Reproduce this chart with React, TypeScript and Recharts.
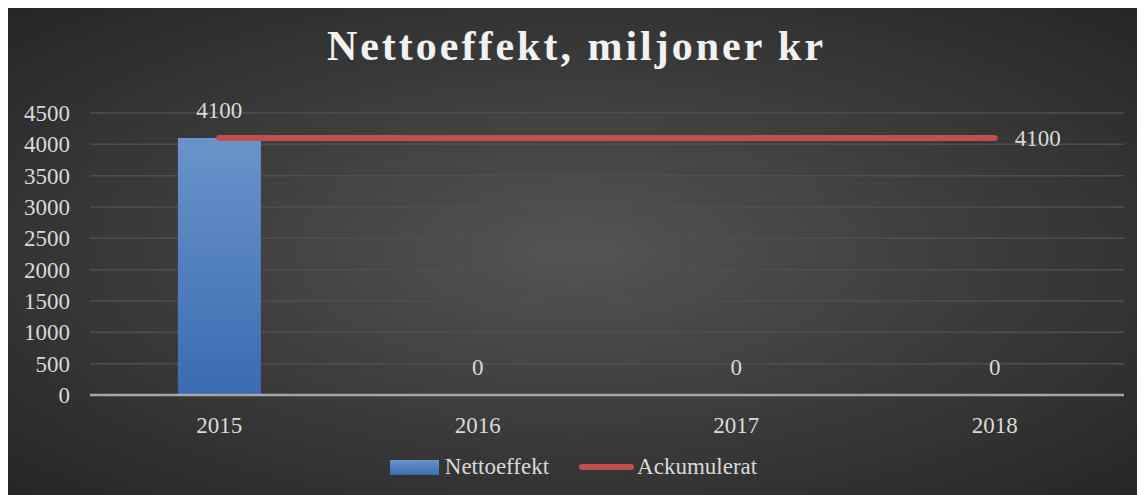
import React from 'react'
import {
    Bar,
    CartesianGrid,
    ComposedChart,
    LabelList,
    Line,
    XAxis,
    YAxis,
} from 'recharts'

const years = ['2015', '2016', '2017', '2018']
const nettoeffekt = [4100, 0, 0, 0]
const ackumulerat = [4100, 4100, 4100, 4100]
const yTicks = [0, 500, 1000, 1500, 2000, 2500, 3000, 3500, 4000, 4500]

const data = years.map((year, i) => ({
    year,
    nettoeffekt: nettoeffekt[i],
    ackumulerat: ackumulerat[i],
}))

const FONT = '"Liberation Serif", "Times New Roman", serif'
const TEXT = '#d9d9d9'
const FS = 23

function LineEndLabel(props: any) {
    const { x, y, value, index } = props
    if (index !== years.length - 1) return null
    return (
        <text x={x + 20} y={y + 8} fill={TEXT} fontSize={FS} fontFamily={FONT}>
            {value}
        </text>
    )
}

// bar value labels, drawn above each bar top (also for zero bars)
function BarValueLabel(props: any) {
    const { x, y, value } = props
    return (
        <text x={x} y={y - 20} fill={TEXT} fontSize={FS} fontFamily={FONT} textAnchor="middle">
            {value}
        </text>
    )
}

function ChartLegend() {
    return (
        <div
            style={{
                position: 'absolute',
                top: 446,
                left: 0,
                width: '100%',
                display: 'flex',
                justifyContent: 'center',
                alignItems: 'center',
                fontFamily: FONT,
                fontSize: 23,
                color: TEXT,
                paddingRight: 6,
                boxSizing: 'border-box',
            }}
        >
            <span
                style={{
                    display: 'inline-block',
                    width: 49,
                    height: 15,
                    background: 'linear-gradient(#6a93c9, #3d6db2)',
                    marginRight: 6,
                }}
            />
            <span style={{ marginRight: 30 }}>Nettoeffekt</span>
            <span
                style={{
                    display: 'inline-block',
                    width: 55,
                    height: 6,
                    borderRadius: 3,
                    background: '#c0504d',
                    marginRight: 3,
                }}
            />
            <span>Ackumulerat</span>
        </div>
    )
}

export default function App() {
    return (
        <div
            style={{
                position: 'relative',
                width: 1137,
                height: 487,
                background:
                    'radial-gradient(ellipse at 50% 50%, #545454 0%, #3c3c3c 50%, #262626 100%)',
            }}
        >
            <div
                style={{
                    position: 'absolute',
                    top: 14,
                    left: 0,
                    width: '100%',
                    textAlign: 'center',
                    fontFamily: FONT,
                    fontWeight: 'bold',
                    fontSize: 42,
                    letterSpacing: 3,
                    color: '#f2f2f2',
                }}
            >
                Nettoeffekt, miljoner kr
            </div>
            <ComposedChart
                width={1137}
                height={487}
                data={data}
                margin={{ top: 105, right: 21, bottom: 70, left: 0 }}
                barCategoryGap="34%"
                style={{ position: 'absolute', top: 0, left: 0 }}
            >
                <defs>
                    <linearGradient id="barFill" x1="0" y1="0" x2="0" y2="1">
                        <stop offset="0%" stopColor="#6a93c9" />
                        <stop offset="100%" stopColor="#3a6bb2" />
                    </linearGradient>
                </defs>
                <CartesianGrid vertical={false} stroke="#4f4f4f" strokeWidth={1.5} />
                <XAxis
                    dataKey="year"
                    height={30}
                    axisLine={{ stroke: '#a6a6a6', strokeWidth: 2.5 }}
                    tickLine={false}
                    tickSize={0}
                    tickMargin={22}
                    interval={0}
                    tick={{ fill: TEXT, fontSize: FS, fontFamily: FONT }}
                />
                <YAxis
                    width={82}
                    domain={[0, 4500]}
                    ticks={yTicks}
                    interval={0}
                    axisLine={false}
                    tickLine={false}
                    tickSize={0}
                    tickMargin={20}
                    tick={{ fill: TEXT, fontSize: FS, fontFamily: FONT }}
                />
                <Bar dataKey="nettoeffekt" fill="url(#barFill)" isAnimationActive={false} />
                <Line
                    dataKey="nettoeffekt"
                    stroke="none"
                    dot={false}
                    activeDot={false}
                    isAnimationActive={false}
                >
                    <LabelList dataKey="nettoeffekt" content={BarValueLabel} />
                </Line>
                <Line
                    dataKey="ackumulerat"
                    stroke="#c0504d"
                    strokeWidth={6}
                    strokeLinecap="round"
                    dot={false}
                    activeDot={false}
                    isAnimationActive={false}
                >
                    <LabelList dataKey="ackumulerat" content={LineEndLabel} />
                </Line>
            </ComposedChart>
            <ChartLegend />
        </div>
    )
}
